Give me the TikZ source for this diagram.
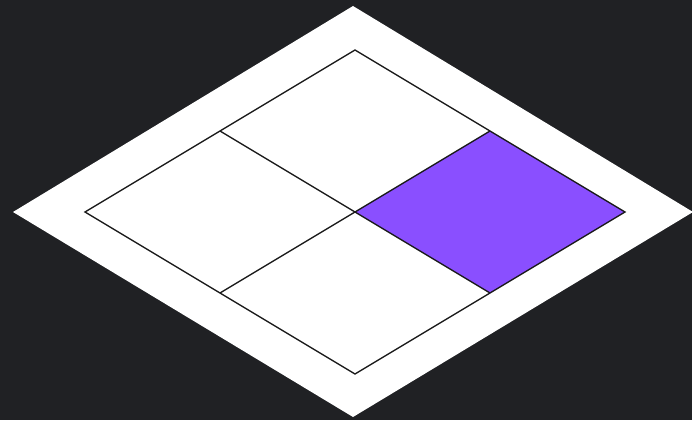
\documentclass[tikz,border=0pt]{standalone}
\definecolor{bg}{HTML}{202124}
\definecolor{purp}{HTML}{8A4FFF}
\begin{document}
\begin{tikzpicture}[x=1pt,y=-1pt,
  cell/.style={draw=black!90,line width=1.35pt,line join=miter}]
\fill[bg] (0,0) rectangle (692,420);
\useasboundingbox (0,0) rectangle (692,420);
\fill[white] (353,6) -- (693,212) -- (353,417) -- (13,212) -- cycle;
\coordinate (c) at (355,212);
\coordinate (t) at (355,50);
\coordinate (b) at (355,374);
\coordinate (l) at (85,212);
\coordinate (r) at (625,212);
\coordinate (tl) at (220,131);
\coordinate (tr) at (490,131);
\coordinate (bl) at (220,293);
\coordinate (br) at (490,293);
\fill[purp] (c) -- (tr) -- (r) -- (br) -- cycle;
\draw[cell] (t) -- (r) -- (b) -- (l) -- cycle;
\draw[cell] (tl) -- (br);
\draw[cell] (tr) -- (bl);
\end{tikzpicture}
\end{document}
